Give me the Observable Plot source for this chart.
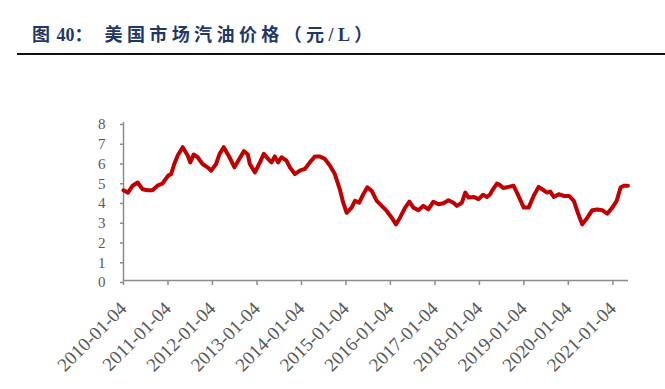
<!DOCTYPE html>
<html>
<head>
<meta charset="utf-8">
<script src="https://cdn.jsdelivr.net/npm/d3@7"></script>
<script src="https://cdn.jsdelivr.net/npm/@observablehq/plot@0.6"></script>
<style>
  html, body { margin: 0; padding: 0; background: #fff; }
  #wrap { position: relative; width: 665px; height: 389px; overflow: hidden; }
  #title { position: absolute; left: 32px; top: 20px; font-family: "Liberation Serif", "Noto Sans CJK SC", serif; font-weight: bold; font-size: 18px; color: #1f3864; white-space: nowrap; }
  #title .cjk { letter-spacing: 4.4px; }
  #rule { position: absolute; left: 17px; top: 53px; width: 648px; height: 2px; background: #111; }
  #chart { position: absolute; left: 0; top: 60px; }
</style>
</head>
<body>
<div id="wrap">
  <div id="title"></div>
  <div id="rule"></div>
  <div id="chart"></div>
</div>
<script>
const titleFig = "图";
const titleLabel = "40：";
const titleMain = "美国市场汽油价格（元/L）";
const dates = [
  "2010-01-04","2010-02-10","2010-03-20","2010-04-30","2010-06-10","2010-07-20","2010-08-30","2010-10-10","2010-11-20",
  "2011-01-04","2011-01-30","2011-02-25","2011-03-25","2011-05-05","2011-06-15","2011-07-06","2011-08-03","2011-09-05","2011-10-15","2011-11-25","2011-12-25",
  "2012-02-03","2012-03-03","2012-04-06","2012-05-23","2012-07-03","2012-08-13","2012-09-18","2012-10-21","2012-11-06","2012-12-18",
  "2013-01-28","2013-03-01","2013-04-05","2013-05-03","2013-05-30","2013-06-26","2013-07-24","2013-09-03","2013-10-01","2013-11-11","2013-12-22",
  "2014-02-01","2014-03-14","2014-04-24","2014-06-04","2014-07-15","2014-08-25","2014-10-05","2014-11-15","2014-12-13",
  "2015-01-10","2015-02-20","2015-03-19","2015-04-23","2015-05-27","2015-06-29","2015-08-04","2015-09-14","2015-10-25","2015-12-05",
  "2016-01-15","2016-02-19","2016-03-23","2016-05-04","2016-06-08","2016-07-11","2016-08-21","2016-10-01","2016-11-11","2016-12-22",
  "2017-02-02","2017-03-15","2017-04-25","2017-06-05","2017-07-03","2017-08-13","2017-09-10","2017-10-07","2017-11-17","2017-12-28",
  "2018-02-03","2018-03-07","2018-04-03","2018-04-17","2018-05-28","2018-06-10","2018-07-21","2018-08-31","2018-10-11","2018-11-21",
  "2019-01-03","2019-02-12","2019-03-25","2019-05-05","2019-06-15","2019-07-13","2019-08-09","2019-09-06","2019-10-17","2019-11-27",
  "2020-01-10","2020-02-18","2020-03-22","2020-04-27","2020-06-08","2020-07-18","2020-08-28","2020-10-08","2020-11-18","2020-12-30",
  "2021-02-04","2021-03-08","2021-04-04","2021-05-07"
];
const prices = [
  4.57,4.45,4.80,4.96,4.62,4.57,4.57,4.80,4.91,
  5.30,5.39,5.90,6.33,6.75,6.33,5.98,6.38,6.24,5.90,5.73,5.56,
  5.90,6.41,6.75,6.24,5.73,6.16,6.55,6.38,5.90,5.47,
  5.98,6.41,6.16,5.98,6.28,5.98,6.24,6.07,5.73,5.39,5.56,
  5.65,5.98,6.28,6.28,6.16,5.82,5.39,4.62,3.94,
  3.43,3.69,4.03,3.94,4.37,4.72,4.54,4.03,3.78,3.52,
  3.18,2.84,3.18,3.69,3.99,3.69,3.56,3.78,3.60,3.99,
  3.86,3.91,4.06,3.94,3.78,3.94,4.45,4.20,4.23,4.12,
  4.34,4.23,4.37,4.54,4.91,4.88,4.68,4.74,4.80,4.28,
  3.69,3.69,4.28,4.74,4.57,4.45,4.50,4.23,4.37,4.28,
  4.28,4.03,3.43,2.84,3.18,3.56,3.60,3.56,3.38,3.69,
  4.03,4.71,4.80,4.80
];
const xTickLabels = ["2010-01-04","2011-01-04","2012-01-04","2013-01-04","2014-01-04","2015-01-04","2016-01-04","2017-01-04","2018-01-04","2019-01-04","2020-01-04","2021-01-04"];
const yTicks = [0,1,2,3,4,5,6,7,8];
const xDomainLabels = ["2010-01-04","2021-05-12"];

const titleEl = document.getElementById("title");
const s0 = document.createElement("span");
s0.textContent = titleFig + " ";
s0.style.marginRight = "2px";
const s1 = document.createElement("span");
s1.textContent = titleLabel;
s1.style.marginRight = "12px";
const s2 = document.createElement("span");
s2.className = "cjk";
s2.textContent = titleMain;
titleEl.appendChild(s0);
titleEl.appendChild(s1);
titleEl.appendChild(s2);

const parse = d3.utcParse("%Y-%m-%d");
const data = dates.map((d, i) => ({date: parse(d), value: prices[i]}));
const axisColor = "#8c8c8c";
const textColor = "#595959";

const chart = Plot.plot({
  width: 665,
  height: 329,
  marginTop: 62,
  marginBottom: 109,
  marginLeft: 123,
  marginRight: 37,
  style: {fontFamily: "'Liberation Serif', 'Times New Roman', serif", background: "transparent", overflow: "visible"},
  x: {type: "utc", domain: xDomainLabels.map(parse)},
  y: {domain: [0, 8]},
  marks: [
    Plot.ruleX([parse(xDomainLabels[0])], {stroke: axisColor, strokeWidth: 1.5}),
    Plot.ruleY([0], {stroke: axisColor, strokeWidth: 1.5}),
    Plot.axisY({ticks: yTicks, tickSize: 3, tickPadding: 15, fontSize: 15, dy: 2, label: null, stroke: axisColor, fill: textColor, strokeWidth: 1.5}),
    Plot.axisX({ticks: xTickLabels.map(parse), tickFormat: d3.utcFormat("%Y-%m-%d"), tickRotate: -45, tickSize: 5, tickPadding: 20, fontSize: 19, label: null, stroke: axisColor, fill: textColor, strokeWidth: 1.5}),
    Plot.line(data, {x: "date", y: "value", stroke: "#c00000", strokeWidth: 4, strokeLinejoin: "round", strokeLinecap: "round"})
  ]
});
document.getElementById("chart").appendChild(chart);
</script>
</body>
</html>
